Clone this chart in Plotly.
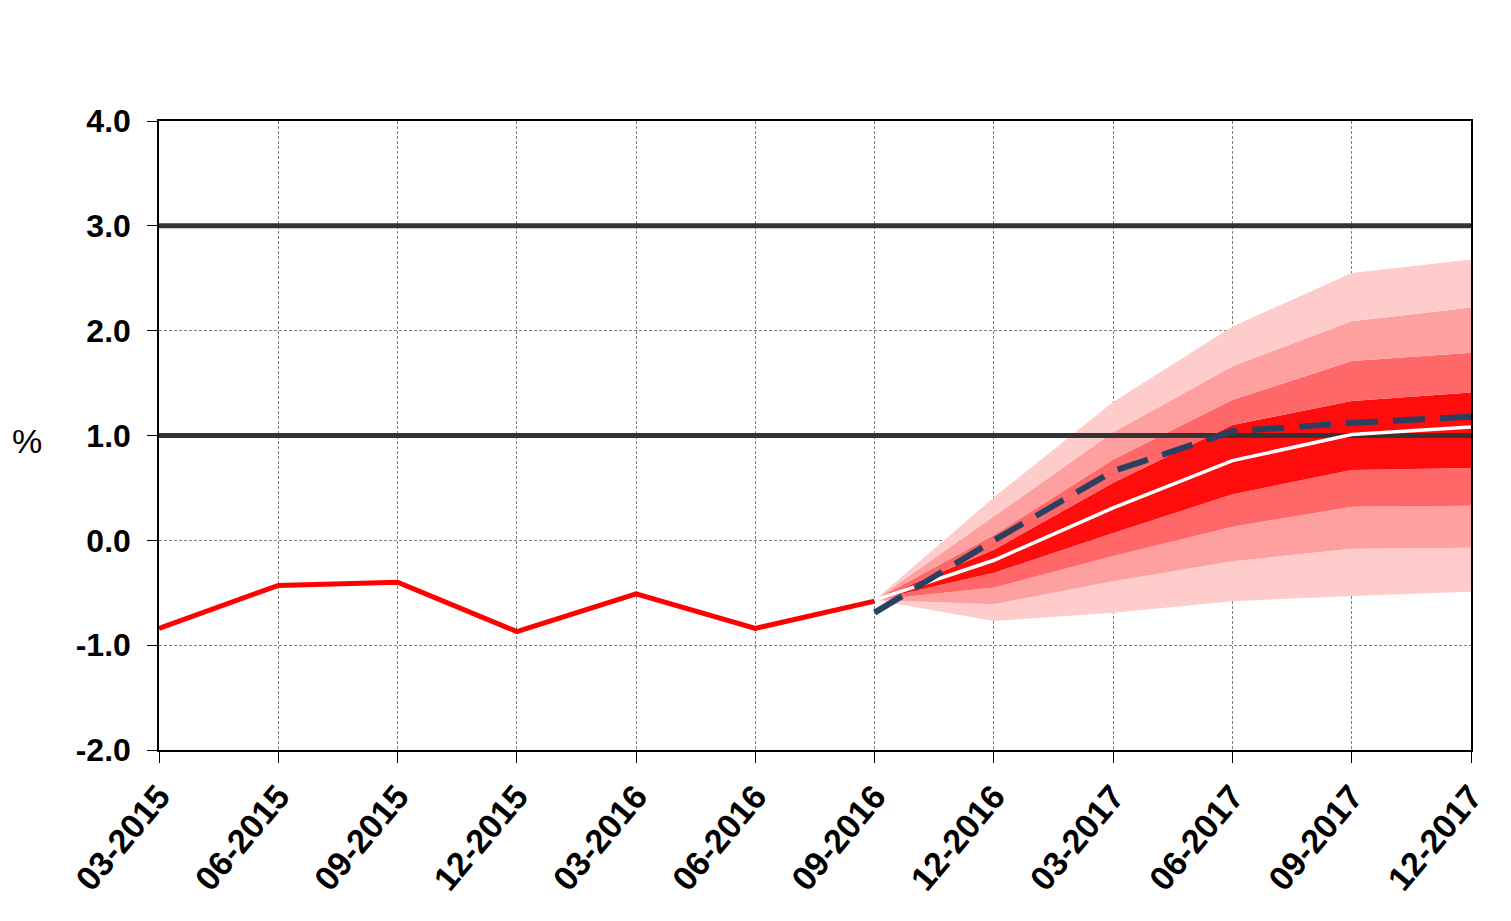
import plotly.graph_objects as go

dates = ["03-2015", "06-2015", "09-2015", "12-2015", "03-2016", "06-2016",
         "09-2016", "12-2016", "03-2017", "06-2017", "09-2017", "12-2017"]

# Actual data (history)
hist_dates = dates[:7]
hist_values = [-0.84, -0.43, -0.40, -0.87, -0.51, -0.84, -0.58]

# Forecast fan (from 09-2016)
fc_dates = dates[6:]
central = [-0.57, -0.19, 0.31, 0.76, 1.01, 1.08]
band90_lo = [-0.57, -0.77, -0.69, -0.58, -0.53, -0.49]
band70_lo = [-0.57, -0.61, -0.39, -0.20, -0.08, -0.07]
band50_lo = [-0.57, -0.45, -0.15, 0.13, 0.32, 0.33]
band30_lo = [-0.57, -0.31, 0.07, 0.44, 0.67, 0.69]
band30_hi = [-0.57, -0.09, 0.55, 1.10, 1.33, 1.41]
band50_hi = [-0.57, 0.05, 0.77, 1.34, 1.71, 1.79]
band70_hi = [-0.57, 0.23, 1.03, 1.66, 2.09, 2.22]
band90_hi = [-0.57, 0.41, 1.32, 2.04, 2.55, 2.68]

# Previous forecast (dashed)
prev_forecast = [-0.69, 0.00, 0.66, 1.04, 1.12, 1.18]

# Reference levels
ref_levels = [1.0, 3.0]

y_ticks = [-2.0, -1.0, 0.0, 1.0, 2.0, 3.0, 4.0]

c_lightest = "rgb(255,204,204)"
c_light = "rgb(255,160,160)"
c_medium = "rgb(255,104,104)"
c_red = "rgb(255,12,12)"

FONT = "Liberation Sans, Arial, sans-serif"

fig = go.Figure()

def band(y, fillcolor=None):
    fig.add_trace(go.Scatter(
        x=fc_dates, y=y, mode="lines", line=dict(width=0),
        fill="tonexty" if fillcolor else None,
        fillcolor=fillcolor, showlegend=False, hoverinfo="skip"))

band(band90_lo)
band(band70_lo, c_lightest)
band(band50_lo, c_light)
band(band30_lo, c_medium)
band(band30_hi, c_red)
band(band50_hi, c_medium)
band(band70_hi, c_light)
band(band90_hi, c_lightest)

for lvl in ref_levels:
    fig.add_trace(go.Scatter(
        x=[dates[0], dates[-1]], y=[lvl, lvl], mode="lines",
        line=dict(color="#333333", width=5), showlegend=False, hoverinfo="skip"))

fig.add_trace(go.Scatter(
    x=hist_dates, y=hist_values, mode="lines",
    line=dict(color="#ff0000", width=5), showlegend=False))

fig.add_trace(go.Scatter(
    x=fc_dates, y=central, mode="lines",
    line=dict(color="#ffffff", width=3.5), showlegend=False))

fig.add_trace(go.Scatter(
    x=fc_dates, y=prev_forecast, mode="lines",
    line=dict(color="#2b4060", width=6, dash="32px,15px"), showlegend=False))

fig.update_layout(
    width=1511, height=921,
    margin=dict(l=151, r=48, t=113, b=179),
    paper_bgcolor="white", plot_bgcolor="white",
    font=dict(family=FONT, color="black"),
    showlegend=False,
    annotations=[dict(
        text="%", xref="paper", yref="paper", x=0, y=0.5,
        xanchor="center", yanchor="middle", showarrow=False,
        font=dict(size=34, family=FONT),
        xshift=-132, yshift=-5)],
)

fig.update_xaxes(
    type="category", categoryorder="array", categoryarray=dates,
    range=[0, len(dates) - 1],
    showline=True, linecolor="black", linewidth=1.5, mirror=True,
    ticks="outside", ticklen=11, tickcolor="black", tickwidth=1,
    tickangle=-50,
    tickfont=dict(size=34, family=FONT, weight="bold"),
    showgrid=True, gridcolor="#808080", griddash="3px,2px", gridwidth=1,
    zeroline=False,
)

fig.update_yaxes(
    range=[-2.0, 4.0], tickvals=y_ticks, ticktext=[f"{v:.1f}" for v in y_ticks],
    showline=True, linecolor="black", linewidth=1.5, mirror=True,
    ticks="outside", ticklen=10, tickcolor="black", tickwidth=1,
    tickfont=dict(size=32, family=FONT, weight="bold"),
    showgrid=True, gridcolor="#808080", griddash="3px,2px", gridwidth=1,
    zeroline=False, ticklabelstandoff=10,
)

fig.write_html("out.html")
